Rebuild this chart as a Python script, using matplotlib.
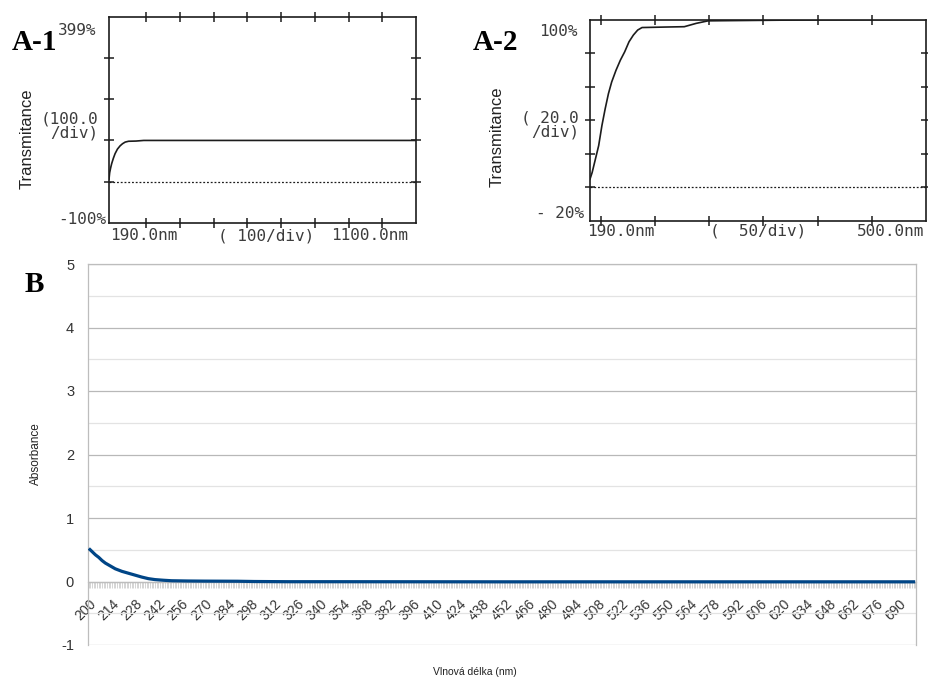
import matplotlib
matplotlib.use("Agg")
import matplotlib.pyplot as plt
from matplotlib.ticker import MultipleLocator, FixedLocator

plt.rcParams["axes.unicode_minus"] = False

W, H = 929, 680

# ---- A-1: transmittance scan, 190-1100 nm ----
a1_nm = [190, 192, 195, 198, 203, 208, 215, 223, 230, 238, 248, 270, 293, 1100]
a1_t = [6, 22, 34, 44, 57, 68, 79, 87, 92, 96, 98, 98.5, 100, 100]

# ---- A-2: transmittance scan, 190-500 nm ----
a2_nm = [190, 192, 195, 198, 201, 204, 207, 210, 214, 218, 222, 226, 230,
         234, 238, 260, 277, 288, 299, 383, 500]
a2_t = [5, 9, 17, 25, 37, 47, 56, 63, 70, 76, 81, 87, 91,
        94, 95.5, 95.8, 96, 98, 99.5, 100, 100.3]

# ---- B: absorbance spectrum ----
b_nm = [200, 202, 204, 206, 208, 210, 213, 216, 220, 224, 228, 232, 236,
        240, 245, 250, 260, 270, 280, 290, 300, 320, 350, 400, 450, 500,
        550, 600, 650, 700]
b_abs = [0.52, 0.47, 0.42, 0.38, 0.33, 0.29, 0.245, 0.20, 0.16, 0.13, 0.10,
         0.07, 0.045, 0.03, 0.02, 0.012, 0.008, 0.006, 0.005, 0.004, 0.0,
         -0.003, -0.003, -0.004, -0.005, -0.005, -0.005, -0.005, -0.005,
         -0.005]
b_ticks = list(range(200, 691, 14))

MONO = "DejaVu Sans Mono"
SANS = "Liberation Sans"
SERIF = "Liberation Serif"
INK = "#1c1c1c"
PRINT = "#3c3c3c"


def fxy(x, y):
    return x / W, 1 - y / H


def ax_rect(left, top, right, bottom):
    return [left / W, 1 - bottom / H, (right - left) / W, (bottom - top) / H]


def instrument_style(ax):
    for s in ax.spines.values():
        s.set_color(INK)
        s.set_linewidth(1.2)
    ax.tick_params(which="both", direction="inout", length=7, width=1.1,
                   color=INK, top=True, right=True,
                   labelbottom=False, labelleft=False)
    ax.set_facecolor("white")


fig = plt.figure(figsize=(W / 100, H / 100), dpi=100)

# A-1
ax1 = fig.add_axes(ax_rect(109, 17, 416, 223))
ax1.plot(a1_nm, a1_t, color=INK, lw=1.2)
ax1.axhline(0, color=INK, lw=0.9, ls=(0, (1.5, 1.5)))
ax1.set_xlim(190, 1100)
ax1.set_ylim(-100, 399)
ax1.xaxis.set_major_locator(FixedLocator(list(range(300, 1001, 100))))
ax1.yaxis.set_major_locator(FixedLocator([0, 100, 200, 300]))
instrument_style(ax1)

# A-2
ax2 = fig.add_axes(ax_rect(590, 20, 926, 221))
ax2.plot(a2_nm, a2_t, color=INK, lw=1.2)
ax2.axhline(0, color=INK, lw=0.9, ls=(0, (1.5, 1.5)))
ax2.set_xlim(190, 500)
ax2.set_ylim(-20, 100)
ax2.xaxis.set_major_locator(FixedLocator([200, 250, 300, 350, 400, 450]))
ax2.yaxis.set_major_locator(FixedLocator([0, 20, 40, 60, 80]))
instrument_style(ax2)

mono = dict(family=MONO, fontsize=11.5, color=PRINT)

fig.text(*fxy(58, 35), "399%", ha="left", va="baseline", **mono)
fig.text(*fxy(98, 126), "(100.0\n/div)", ha="right", va="center",
         linespacing=0.95, **mono)
fig.text(*fxy(106, 220), "-100%", ha="right", va="center", **mono)
fig.text(*fxy(110, 236), "190.0nm", ha="left", va="center", **mono)
fig.text(*fxy(218, 236), "( 100/div)", ha="left", va="center", **mono)
fig.text(*fxy(408, 236), "1100.0nm", ha="right", va="center", **mono)
fig.text(*fxy(27, 139), "Transmitance", rotation=90, ha="center",
         va="center", family=SANS, fontsize=12, color="#222222")

fig.text(*fxy(578, 31), "100%", ha="right", va="center", **mono)
fig.text(*fxy(579, 125), "( 20.0\n/div)", ha="right", va="center",
         linespacing=0.95, **mono)
fig.text(*fxy(584, 214), "- 20%", ha="right", va="center", **mono)
fig.text(*fxy(587, 231), "190.0nm", ha="left", va="center", **mono)
fig.text(*fxy(710, 231), "(  50/div)", ha="left", va="center", **mono)
fig.text(*fxy(924, 231), "500.0nm", ha="right", va="center", **mono)
fig.text(*fxy(497, 137), "Transmitance", rotation=90, ha="center",
         va="center", family=SANS, fontsize=12, color="#222222")

panel = dict(family=SERIF, fontsize=21, weight="bold", color="black",
             ha="left", va="baseline", zorder=5)
fig.text(*fxy(12, 50), "A-1", **panel)
fig.text(*fxy(473, 50), "A-2", **panel)
fig.text(*fxy(25, 292), "B", **panel)

# B
axB = fig.add_axes(ax_rect(88, 264, 916, 645))
axB.plot(b_nm, b_abs, color="#004586", lw=2.3, solid_capstyle="butt",
         zorder=4)
axB.set_xlim(199.5, 700.5)
axB.set_ylim(-1, 5)
axB.yaxis.set_major_locator(MultipleLocator(1))
axB.yaxis.set_minor_locator(MultipleLocator(0.5))
axB.grid(which="major", axis="y", color="#b8b8b8", lw=0.9)
axB.grid(which="minor", axis="y", color="#e3e3e3", lw=0.9)
axB.xaxis.set_major_locator(FixedLocator(b_ticks))
axB.xaxis.set_minor_locator(MultipleLocator(1))
axB.set_xticklabels([str(t) for t in b_ticks])
axB.tick_params(axis="x", which="both", direction="out", length=4,
                width=0.5, color="#c4c4c4", pad=7)
axB.tick_params(axis="y", which="both", length=0, pad=10, labelsize=10.5,
                labelcolor="#333333")
axB.spines["bottom"].set_position(("data", 0))
for s in axB.spines.values():
    s.set_color("#bdbdbd")
    s.set_linewidth(0.9)
axB.set_axisbelow(True)

plt.setp(axB.get_xticklabels(), rotation=45, ha="right", va="top",
         rotation_mode="anchor", fontsize=10, color="#333333", family=SANS)
plt.setp(axB.get_yticklabels(), family=SANS)

fig.text(*fxy(475, 672), "Vlnová délka (nm)", ha="center", va="center",
         family=SANS, fontsize=7.5, color="#222222")
fig.text(*fxy(36, 454), "Absorbance", rotation=90, ha="center",
         va="center", family=SANS, fontsize=8.5, color="#222222")

fig.savefig("out.png", dpi=100, facecolor="white")
